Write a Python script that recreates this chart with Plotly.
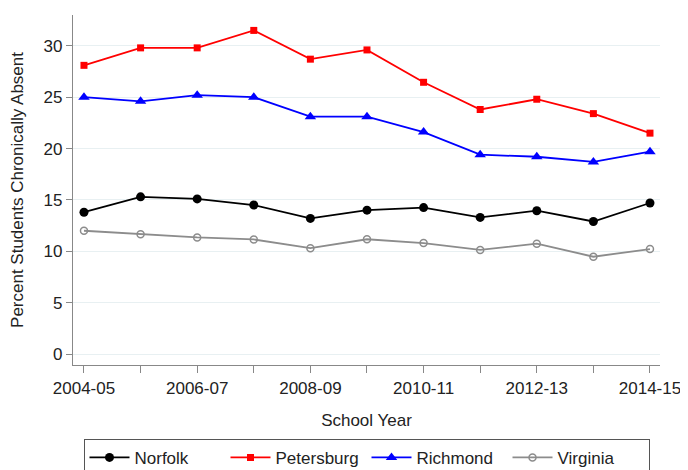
import plotly.graph_objects as go

years = ["2004-05", "2005-06", "2006-07", "2007-08", "2008-09", "2009-10",
         "2010-11", "2011-12", "2012-13", "2013-14", "2014-15"]
tick_labels = ["2004-05", "", "2006-07", "", "2008-09", "",
               "2010-11", "", "2012-13", "", "2014-15"]

norfolk = [13.8, 15.3, 15.1, 14.5, 13.2, 14.0, 14.25, 13.3, 13.95, 12.9, 14.7]
petersburg = [28.1, 29.8, 29.8, 31.5, 28.7, 29.6, 26.45, 23.8, 24.8, 23.4, 21.5]
richmond = [25.0, 24.6, 25.2, 25.0, 23.1, 23.1, 21.6, 19.4, 19.2, 18.7, 19.7]
virginia = [12.0, 11.65, 11.35, 11.15, 10.3, 11.17, 10.8, 10.13, 10.74, 9.47, 10.22]

y_ticks = [0, 5, 10, 15, 20, 25, 30]

font = "Liberation Sans, Arial, sans-serif"

fig = go.Figure()
fig.add_trace(go.Scatter(x=years, y=norfolk, name="Norfolk", mode="lines+markers",
                         line=dict(color="black", width=1.8),
                         marker=dict(symbol="circle", size=9, color="black")))
fig.add_trace(go.Scatter(x=years, y=petersburg, name="Petersburg", mode="lines+markers",
                         line=dict(color="#ff0000", width=1.8),
                         marker=dict(symbol="square", size=7, color="#ff0000")))
fig.add_trace(go.Scatter(x=years, y=richmond, name="Richmond", mode="lines+markers",
                         line=dict(color="#0000ff", width=1.8),
                         marker=dict(symbol="triangle-up", size=10, color="#0000ff")))
fig.add_trace(go.Scatter(x=years, y=virginia, name="Virginia", mode="lines+markers",
                         line=dict(color="#8c8c8c", width=1.8),
                         marker=dict(symbol="circle-open", size=7, color="#8c8c8c",
                                     line=dict(width=1.5, color="#8c8c8c"))))

fig.update_layout(
    width=688, height=470,
    margin=dict(l=65, r=36, t=7, b=113, autoexpand=False),
    paper_bgcolor="white", plot_bgcolor="white",
    font=dict(family=font, size=17, color="#222222"),
    showlegend=True,
    legend=dict(orientation="h", x=0.5, xanchor="center", y=-0.211, yanchor="top",
                bordercolor="#555555", borderwidth=1, font=dict(size=17, color="#222222"),
                itemwidth=40, entrywidth=86, traceorder="normal"),
    xaxis=dict(type="category", categoryorder="array", categoryarray=years,
               tickvals=years, ticktext=tick_labels,
               range=[-0.194, 10.177],
               showline=True, linecolor="#888888", linewidth=1.2,
               ticks="outside", ticklen=7, tickcolor="#888888",
               showgrid=False, zeroline=False,
               tickfont=dict(size=17),
               title=dict(text="School Year", font=dict(size=17), standoff=17)),
    yaxis=dict(range=[-1.07, 33.0], tickvals=y_ticks,
               showline=True, linecolor="#888888", linewidth=1.2,
               ticks="outside", ticklen=6, tickcolor="#888888",
               showgrid=True, gridcolor="#e8f0f2", gridwidth=1.2, zeroline=False,
               tickfont=dict(size=17),
               title=dict(text="Percent Students Chronically Absent", font=dict(size=17),
                          standoff=17)),
)

fig.write_html("out.html")
